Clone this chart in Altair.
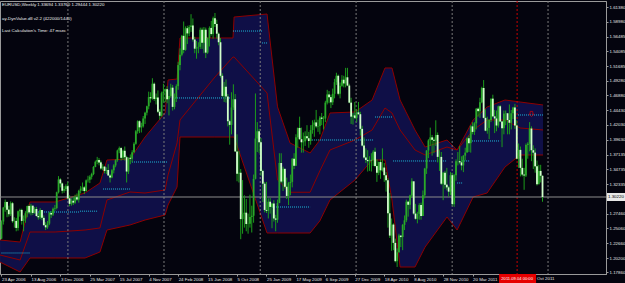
import altair as alt
import pandas as pd

# ---------------- data ----------------
first_open = 1.2340
closes = [
    1.2620, 1.2850, 1.2940, 1.2815, 1.2740, 1.2920, 1.2625, 1.2630, 1.2515, 1.2790,
    1.2810, 1.2630, 1.2670, 1.2755, 1.2875, 1.2770, 1.2880, 1.2760, 1.2825, 1.2710,
    1.2690, 1.2810, 1.2680, 1.2560, 1.2525, 1.2585, 1.2760, 1.2735, 1.2830, 1.2840,
    1.3100, 1.3310, 1.3245, 1.3125, 1.3155, 1.3200,
    1.3000, 1.2910, 1.2960, 1.2930, 1.3020, 1.2980, 1.3125, 1.3160, 1.3180, 1.3120,
    1.3295, 1.3305, 1.3355, 1.3400, 1.3515, 1.3600, 1.3630, 1.3590, 1.3490, 1.3520,
    1.3450, 1.3465, 1.3375, 1.3340, 1.3460, 1.3540, 1.3625, 1.3785, 1.3825, 1.3665,
    1.3780, 1.3675, 1.3440, 1.3665, 1.3650, 1.3755, 1.3895, 1.4100, 1.4265, 1.4165,
    1.4180, 1.4310, 1.4405, 1.4510, 1.4660, 1.4640, 1.4880, 1.4630, 1.4655, 1.4420,
    1.4355, 1.4725,
    1.4750, 1.4790, 1.4625, 1.4680, 1.4815, 1.4500, 1.4640, 1.4840, 1.5185, 1.5355,
    1.5665, 1.5435, 1.5790, 1.5705, 1.5810, 1.5835, 1.5605, 1.5455, 1.5480, 1.5485,
    1.5765, 1.5550, 1.5765, 1.5390, 1.5630, 1.5795, 1.5695, 1.5955, 1.5860, 1.5700,
    1.5560, 1.5010, 1.4680, 1.4830, 1.4670, 1.4265, 1.4205, 1.4490, 1.4625, 1.3770,
    1.3405, 1.3420, 1.2660, 1.2740, 1.2765, 1.2580, 1.2585, 1.2695, 1.2715, 1.3320,
    1.3980, 1.4100,
    1.3920, 1.3450, 1.3240, 1.2810, 1.2795, 1.2945, 1.2860, 1.2915, 1.2670, 1.2650,
    1.2925, 1.3580, 1.3275, 1.3485, 1.3190, 1.3040, 1.3250, 1.3270, 1.3650, 1.3535,
    1.4000, 1.4155, 1.3970, 1.3920, 1.3935, 1.4020, 1.3985, 1.3940, 1.4120, 1.4205,
    1.4245, 1.4180, 1.4185, 1.4325, 1.4305, 1.4310, 1.4570, 1.4705, 1.4660, 1.4575,
    1.4715, 1.4905, 1.5010, 1.4715, 1.4845, 1.4945, 1.4885, 1.4985, 1.4850, 1.4570,
    1.4340, 1.4360,
    1.4320, 1.4410, 1.4380, 1.4140, 1.3865, 1.3670, 1.3630, 1.3610, 1.3630, 1.3625,
    1.3765, 1.3530, 1.3420, 1.3595, 1.3460, 1.3505, 1.3380, 1.3295, 1.2755, 1.2390,
    1.2570, 1.2270, 1.1970, 1.2115, 1.2390, 1.2365, 1.2565, 1.2640, 1.2945, 1.2895,
    1.3045, 1.3280, 1.2750, 1.2665, 1.2745, 1.2890, 1.2710, 1.3050, 1.3490, 1.3785,
    1.3950, 1.4000, 1.3960, 1.3945, 1.4040, 1.3680, 1.3680, 1.3240, 1.3420, 1.3225,
    1.3180, 1.3110, 1.3380,
    1.2905, 1.3380, 1.3610, 1.3610, 1.3590, 1.3540, 1.3700, 1.3750, 1.3985, 1.3905,
    1.4180, 1.4090, 1.4230, 1.4470, 1.4430, 1.4575, 1.4810, 1.4320, 1.4110, 1.4155,
    1.4285, 1.4635, 1.4345, 1.4310, 1.4195, 1.4510, 1.4260, 1.4150, 1.4390, 1.4395,
    1.4285, 1.4240, 1.4395, 1.4490, 1.4195, 1.3650, 1.3795, 1.3500, 1.3390, 1.3375,
    1.3875, 1.3895, 1.4145, 1.3790, 1.3750, 1.3525, 1.3230, 1.3450, 1.3370, 1.3022,
]
highs = [
    1.2640, 1.2860, 1.2980, 1.2950, 1.2880, 1.2950, 1.2940, 1.2690, 1.2680, 1.2800,
    1.2830, 1.2830, 1.2720, 1.2790, 1.2880, 1.2900, 1.2910, 1.2880, 1.2860, 1.2860,
    1.2760, 1.2840, 1.2810, 1.2720, 1.2610, 1.2630, 1.2780, 1.2790, 1.2850, 1.2890,
    1.3110, 1.3365, 1.3330, 1.3260, 1.3200, 1.3230,
    1.3270, 1.3050, 1.3000, 1.3030, 1.3060, 1.3080, 1.3140, 1.3200, 1.3260, 1.3200,
    1.3310, 1.3370, 1.3380, 1.3420, 1.3530, 1.3620, 1.3680, 1.3660, 1.3620, 1.3560,
    1.3530, 1.3510, 1.3560, 1.3400, 1.3480, 1.3560, 1.3640, 1.3800, 1.3850, 1.3840,
    1.3800, 1.3850, 1.3700, 1.3670, 1.3720, 1.3790, 1.3920, 1.4120, 1.4280, 1.4280,
    1.4240, 1.4350, 1.4420, 1.4520, 1.4750, 1.4740, 1.4970, 1.4900, 1.4720, 1.4770,
    1.4460, 1.4750,
    1.4880, 1.4800, 1.4840, 1.4780, 1.4880, 1.4860, 1.4720, 1.4870, 1.5240, 1.5460,
    1.5680, 1.5900, 1.5820, 1.5830, 1.5840, 1.6020, 1.5950, 1.5650, 1.5580, 1.5560,
    1.5800, 1.5800, 1.5810, 1.5800, 1.5640, 1.5820, 1.5910, 1.5980, 1.6040, 1.5930,
    1.5720, 1.5630, 1.5050, 1.4910, 1.4950, 1.4710, 1.4290, 1.4740, 1.4870, 1.4710,
    1.4050, 1.3780, 1.3480, 1.3300, 1.3050, 1.2990, 1.2750, 1.3060, 1.2880, 1.3390,
    1.4720, 1.4250,
    1.4140, 1.3990, 1.3470, 1.3270, 1.3270, 1.3000, 1.3010, 1.2920, 1.2970, 1.2730,
    1.2980, 1.3740, 1.3740, 1.3520, 1.3450, 1.3340, 1.3270, 1.3390, 1.3660, 1.3740,
    1.4050, 1.4160, 1.4340, 1.4160, 1.4080, 1.4100, 1.4200, 1.4090, 1.4200, 1.4280,
    1.4290, 1.4450, 1.4290, 1.4350, 1.4400, 1.4350, 1.4600, 1.4780, 1.4760, 1.4700,
    1.4800, 1.4960, 1.5060, 1.5030, 1.4900, 1.5020, 1.5010, 1.5140, 1.5140, 1.4880,
    1.4650, 1.4400,
    1.4580, 1.4460, 1.4580, 1.4420, 1.4190, 1.4000, 1.3820, 1.3790, 1.3690, 1.3740,
    1.3790, 1.3830, 1.3640, 1.3600, 1.3640, 1.3820, 1.3580, 1.3430, 1.3330, 1.3090,
    1.2670, 1.2590, 1.2340, 1.2180, 1.2420, 1.2390, 1.2580, 1.2720, 1.2980, 1.2960,
    1.3060, 1.3330, 1.3270, 1.2910, 1.2780, 1.2920, 1.2930, 1.3130, 1.3500, 1.3790,
    1.3970, 1.4160, 1.4040, 1.4000, 1.4280, 1.4080, 1.3790, 1.3760, 1.3430, 1.3450,
    1.3500, 1.3200, 1.3430,
    1.3420, 1.3400, 1.3640, 1.3760, 1.3860, 1.3690, 1.3710, 1.3830, 1.4000, 1.4030,
    1.4200, 1.4250, 1.4250, 1.4480, 1.4490, 1.4650, 1.4830, 1.4940, 1.4460, 1.4340,
    1.4300, 1.4640, 1.4700, 1.4450, 1.4440, 1.4520, 1.4530, 1.4270, 1.4440, 1.4440,
    1.4400, 1.4540, 1.4450, 1.4500, 1.4550, 1.4280, 1.3900, 1.3850, 1.3650, 1.3500,
    1.3900, 1.3920, 1.4250, 1.4180, 1.3870, 1.3820, 1.3620, 1.3550, 1.3550, 1.3376,
]
lows = [
    1.2330, 1.2570, 1.2780, 1.2690, 1.2700, 1.2710, 1.2600, 1.2520, 1.2460, 1.2470,
    1.2700, 1.2570, 1.2460, 1.2600, 1.2690, 1.2740, 1.2720, 1.2730, 1.2750, 1.2700,
    1.2650, 1.2660, 1.2640, 1.2550, 1.2480, 1.2500, 1.2560, 1.2680, 1.2710, 1.2790,
    1.2820, 1.3080, 1.3180, 1.3080, 1.3090, 1.3120,
    1.2980, 1.2870, 1.2880, 1.2890, 1.2910, 1.2960, 1.2930, 1.3080, 1.3120, 1.3070,
    1.3110, 1.3260, 1.3250, 1.3310, 1.3380, 1.3510, 1.3560, 1.3540, 1.3470, 1.3460,
    1.3410, 1.3400, 1.3370, 1.3260, 1.3330, 1.3410, 1.3510, 1.3600, 1.3740, 1.3620,
    1.3630, 1.3620, 1.3260, 1.3400, 1.3560, 1.3590, 1.3740, 1.3880, 1.4060, 1.4070,
    1.4080, 1.4160, 1.4220, 1.4360, 1.4460, 1.4570, 1.4620, 1.4600, 1.4540, 1.4400,
    1.4290, 1.4340,
    1.4570, 1.4580, 1.4560, 1.4360, 1.4650, 1.4440, 1.4460, 1.4580, 1.4780, 1.5100,
    1.5330, 1.5380, 1.5420, 1.5530, 1.5660, 1.5730, 1.5570, 1.5380, 1.5290, 1.5380,
    1.5450, 1.5450, 1.5380, 1.5300, 1.5370, 1.5490, 1.5670, 1.5620, 1.5810, 1.5620,
    1.5510, 1.4980, 1.4660, 1.4580, 1.4570, 1.4180, 1.3880, 1.4050, 1.4450, 1.3760,
    1.3280, 1.3260, 1.2330, 1.2420, 1.2520, 1.2460, 1.2420, 1.2520, 1.2440, 1.2600,
    1.3310, 1.3760,
    1.3740, 1.3370, 1.2940, 1.2770, 1.2760, 1.2670, 1.2750, 1.2510, 1.2620, 1.2460,
    1.2600, 1.2920, 1.3250, 1.3120, 1.3160, 1.2990, 1.2890, 1.3050, 1.3180, 1.3480,
    1.3530, 1.3830, 1.3960, 1.3750, 1.3750, 1.3860, 1.3950, 1.3830, 1.3880, 1.4060,
    1.4010, 1.4150, 1.4090, 1.4050, 1.4200, 1.4130, 1.4250, 1.4540, 1.4560, 1.4480,
    1.4530, 1.4640, 1.4860, 1.4690, 1.4640, 1.4830, 1.4820, 1.4820, 1.4840, 1.4560,
    1.4220, 1.4210,
    1.4300, 1.4250, 1.4370, 1.4030, 1.3850, 1.3650, 1.3580, 1.3440, 1.3450, 1.3440,
    1.3530, 1.3510, 1.3270, 1.3380, 1.3320, 1.3440, 1.3270, 1.3110, 1.2520, 1.2350,
    1.2140, 1.2150, 1.1950, 1.1875, 1.2110, 1.2200, 1.2150, 1.2480, 1.2610, 1.2700,
    1.2820, 1.3010, 1.2730, 1.2650, 1.2590, 1.2650, 1.2650, 1.2710, 1.3000, 1.3400,
    1.3660, 1.3860, 1.3700, 1.3740, 1.3860, 1.3590, 1.3450, 1.3220, 1.2970, 1.3160,
    1.3130, 1.3030, 1.3050,
    1.2880, 1.2860, 1.3290, 1.3540, 1.3560, 1.3460, 1.3430, 1.3620, 1.3750, 1.3760,
    1.3750, 1.4050, 1.4040, 1.4130, 1.4340, 1.4320, 1.4560, 1.4310, 1.4100, 1.4060,
    1.3970, 1.4250, 1.4330, 1.4070, 1.4100, 1.4160, 1.4250, 1.3840, 1.4050, 1.4200,
    1.4050, 1.4050, 1.4130, 1.4300, 1.4140, 1.3640, 1.3500, 1.3360, 1.3360, 1.3140,
    1.3350, 1.3650, 1.3770, 1.3610, 1.3480, 1.3420, 1.3210, 1.3260, 1.3260, 1.2944,
]

# DynValue bands (week index, price)
band_weeks = [-0.8, 10.1, 15.5, 29.1, 45.4, 53.5, 57.3, 69.8, 78.0, 88.9, 90.5, 95.4,
              97.0, 116.0, 125.8, 126.4, 144.3, 150.0, 156.8, 167.7, 173.0, 178.5,
              192.1, 201.4, 208.4, 212.2, 216.6, 224.7, 230.2, 242.1, 247.6, 256.3,
              263.9, 273.6, 281.8, 294.3]
band_upper = [1.2317, 1.2284, 1.2940, 1.2940, 1.3088, 1.3252, 1.3629, 1.3645, 1.4006,
              1.4400, 1.4941, 1.4957, 1.5630, 1.5630, 1.5630, 1.5974, 1.6023, 1.4500,
              1.3908, 1.3744, 1.3957, 1.4400, 1.4416, 1.4613, 1.5138, 1.5138, 1.4613,
              1.4121, 1.3842, 1.3957, 1.3793, 1.4285, 1.4498, 1.4613, 1.4580, 1.4531]
band_mid = [1.2071, 1.1989, 1.2448, 1.2448, 1.2481, 1.2514, 1.2973, 1.3104, 1.3088,
            1.3137, 1.3383, 1.3908, 1.4285, 1.4990, 1.5318, 1.5318, 1.4728, 1.3300,
            1.3100, 1.3100, 1.3450, 1.3793, 1.3957, 1.4121, 1.4482, 1.4400, 1.4121,
            1.3793, 1.3711, 1.3842, 1.3793, 1.4121, 1.4285, 1.4285, 1.4154, 1.4121]
band_lower = [1.1956, 1.1792, 1.2022, 1.2022, 1.2022, 1.2120, 1.2481, 1.2563, 1.2645,
              1.2727, 1.2891, 1.3186, 1.4006, 1.4006, 1.4006, 1.4006, 1.2432, 1.2432,
              1.2432, 1.2432, 1.2630, 1.2973, 1.3301, 1.3629, 1.3629, 1.2973, 1.1874,
              1.1874, 1.2202, 1.2694, 1.2481, 1.3022, 1.3088, 1.3514, 1.3711, 1.3711]

# cyan value levels
lvl_start = [0.0, 15.5, 42.7, 55.2, 70.9, 94.3, 125.8, 141.6, 147.0, 167.7, 203.0, 212.8, 247.6, 250.3, 254.6, 280.7]
lvl_end = [15.5, 42.7, 52.0, 69.8, 90.0, 125.8, 141.6, 144.3, 167.7, 201.9, 212.2, 242.1, 250.3, 254.6, 271.0, 294.3]
lvl_price = [1.2104, 1.2776, 1.2790, 1.3153, 1.3596, 1.4646, 1.5744, 1.5548, 1.2858, 1.3957, 1.4334, 1.3613, 1.3252, 1.3613, 1.3941, 1.4367]

year_sep_weeks = [36.1, 88.3, 140.6, 192.7, 244.9, 297.0]
vline_week = 280.2
vline_label = "2011.09.04 00:00"
vline_box = [270.4, 290.5]
arrow_week = [288.0]
arrow_price = [1.4383]
current_price = 1.3022

# time axis: one tick every 16 weeks; the 10 Jul 2011 label lies under the red
# date box and only "Oct 2011" of the 30 Oct 2011 label peeks out to its right
x_tick_weeks = list(range(0, 289, 16))
x_tick_labels = ["23 Apr 2006", "13 Aug 2006", "3 Dec 2006", "25 Mar 2007", "15 Jul 2007",
                 "4 Nov 2007", "24 Feb 2008", "15 Jun 2008", "5 Oct 2008", "25 Jan 2009",
                 "17 May 2009", "6 Sep 2009", "27 Dec 2009", "18 Apr 2010", "8 Aug 2010",
                 "28 Nov 2010", "20 Mar 2011", "", ""]
tail_label = "Oct 2011"
tail_label_week = 291.0
y_tick_values = [1.61380, 1.58980, 1.56485, 1.54085, 1.51685, 1.49280, 1.46880, 1.44430,
                 1.42030, 1.39630, 1.37135, 1.34735, 1.32335, 1.27460, 1.25060, 1.22660,
                 1.20200, 1.17860]

header_lines = ["EURUSD,Weekly  1.33694 1.33760 1.29444 1.30220",
                "ay-DynValue.dll v2.2 (422000/1440)",
                "Last Calculation's Time: 47 msec"]

# ---------------- build ----------------
opens = [first_open] + closes[:-1]
candles = pd.DataFrame({"w": list(range(len(closes))), "o": opens, "h": highs,
                        "l": lows, "c": closes})
candles["dir"] = ["up" if c >= o else "down" for o, c in zip(opens, closes)]

bands = pd.DataFrame({"w": band_weeks, "u": band_upper, "m": band_mid, "lo": band_lower})
levels = pd.DataFrame({"s": lvl_start, "e": lvl_end, "p": lvl_price})

FONT = "Liberation Sans"
FS = 4.4
BG = "#04040e"
FRAME = "#9a9a9a"
RED = "#8e0000"
LABEL = "#e6e6e6"

xscale = alt.Scale(domain=[-0.815, 328.5], nice=False, zero=False)
yscale = alt.Scale(domain=[1.17595, 1.62364], nice=False, zero=False)

label_expr = "[" + ",".join("'%s'" % s for s in x_tick_labels) + "][round(datum.value / 16)]"
common_axis = dict(labelOverlap=False, labelBound=False, labelFlush=False, labelSeparation=0,
                   labelFont=FONT, labelFontSize=FS, labelColor=LABEL, labelPadding=1,
                   tickSize=2, tickColor=FRAME, domainColor=FRAME, grid=False, title=None)
xaxis = alt.Axis(orient="bottom", values=x_tick_weeks, labelExpr=label_expr,
                 labelAlign="left", labelBaseline="top", **common_axis)
yaxis = alt.Axis(orient="right", values=y_tick_values, format=".5f",
                 labelBaseline="middle", **common_axis)


def X(field):
    return alt.X(field, scale=xscale, axis=xaxis, title=None)


def Y(field):
    return alt.Y(field, scale=yscale, axis=yaxis, title=None)


band_area = alt.Chart(bands).mark_area(color="#0f0f47").encode(
    x=X("w:Q"), y=Y("u:Q"), y2="lo:Q")
line_u = alt.Chart(bands).mark_line(color=RED, strokeWidth=1).encode(x=X("w:Q"), y=Y("u:Q"))
line_m = alt.Chart(bands).mark_line(color=RED, strokeWidth=1).encode(x=X("w:Q"), y=Y("m:Q"))
line_l = alt.Chart(bands).mark_line(color=RED, strokeWidth=1).encode(x=X("w:Q"), y=Y("lo:Q"))

seps = alt.Chart(pd.DataFrame({"w": year_sep_weeks})).mark_rule(
    color="#7a7a7a", strokeDash=[2, 2], strokeWidth=1).encode(x=X("w:Q"))
vline = alt.Chart(pd.DataFrame({"w": [vline_week]})).mark_rule(
    color="#c80000", strokeDash=[2, 2], strokeWidth=1).encode(x=X("w:Q"))
price_line = alt.Chart(pd.DataFrame({"p": [current_price]})).mark_rule(
    color="#8c8c8c", strokeWidth=1).encode(y=Y("p:Q"))

lvl = alt.Chart(levels).mark_rule(color="#1fb8d8", strokeDash=[1, 1], strokeWidth=1).encode(
    x=X("s:Q"), x2="e:Q", y=Y("p:Q"))

wicks = alt.Chart(candles).mark_rule(color="#1c9c1c", strokeWidth=1).encode(
    x=X("w:Q"), y=Y("l:Q"), y2="h:Q")
bodies = alt.Chart(candles).mark_rule(strokeWidth=1.8).encode(
    x=X("w:Q"), y=Y("o:Q"), y2="c:Q",
    color=alt.Color("dir:N", scale=alt.Scale(domain=["up", "down"],
                                             range=["#2aa82a", "#d2ffcc"]), legend=None))

arrow_path = "M-0.25,-0.5L0.25,-0.5L0.25,0L0.5,0L0,0.5L-0.5,0L-0.25,0Z"
arrow = alt.Chart(pd.DataFrame({"w": arrow_week, "p": arrow_price})).mark_point(
    shape=arrow_path, filled=False, color="#e00000", size=110, strokeWidth=1).encode(
    x=X("w:Q"), y=Y("p:Q"))

price_box = alt.Chart(pd.DataFrame({"p": [current_price]})).mark_rule(
    color="#e8e8e8", strokeWidth=8).encode(
    y=Y("p:Q"), x=alt.value(607), x2=alt.value(625))
price_txt = alt.Chart(pd.DataFrame({"p": [current_price], "t": ["%.5f" % current_price]})).mark_text(
    align="left", baseline="middle", font=FONT, fontSize=FS, color="#000000").encode(
    y=Y("p:Q"), x=alt.value(608), text="t:N")

date_box = alt.Chart(pd.DataFrame({"s": [vline_box[0]], "e": [vline_box[1]]})).mark_rule(
    color="#e60000", strokeWidth=9).encode(
    x=X("s:Q"), x2="e:Q", y=alt.value(277.5))
date_txt = alt.Chart(pd.DataFrame({"w": [vline_week], "t": [vline_label]})).mark_text(
    align="center", baseline="middle", font=FONT, fontSize=4.1, color="#ffffff").encode(
    x=X("w:Q"), y=alt.value(277.5), text="t:N")
tail_txt = alt.Chart(pd.DataFrame({"w": [tail_label_week], "t": [tail_label]})).mark_text(
    align="left", baseline="top", font=FONT, fontSize=FS, color=LABEL).encode(
    x=X("w:Q"), y=alt.value(276), text="t:N")

header_y = [4, 18, 30]
headers = [
    alt.Chart(pd.DataFrame({"t": [txt]})).mark_text(
        align="left", baseline="middle", font=FONT, fontSize=FS, color="#f0f0f0").encode(
        x=alt.value(2), y=alt.value(yy), text="t:N")
    for txt, yy in zip(header_lines, header_y)
]

chart = alt.layer(
    band_area, line_u, line_m, line_l, seps, vline, price_line, lvl,
    wicks, bodies, arrow, price_box, price_txt, date_box, date_txt, tail_txt, *headers
).properties(
    width=606, height=273, autosize="none",
    padding={"left": 0, "top": 1, "right": 19, "bottom": 9},
    background=BG,
).configure_view(
    fill=BG, stroke=FRAME, strokeWidth=1
).configure_axis(
    labelOverlap=False, labelBound=False, labelFlush=False,
)

chart.save("out.html", embed_options={"renderer": "svg", "actions": False})
